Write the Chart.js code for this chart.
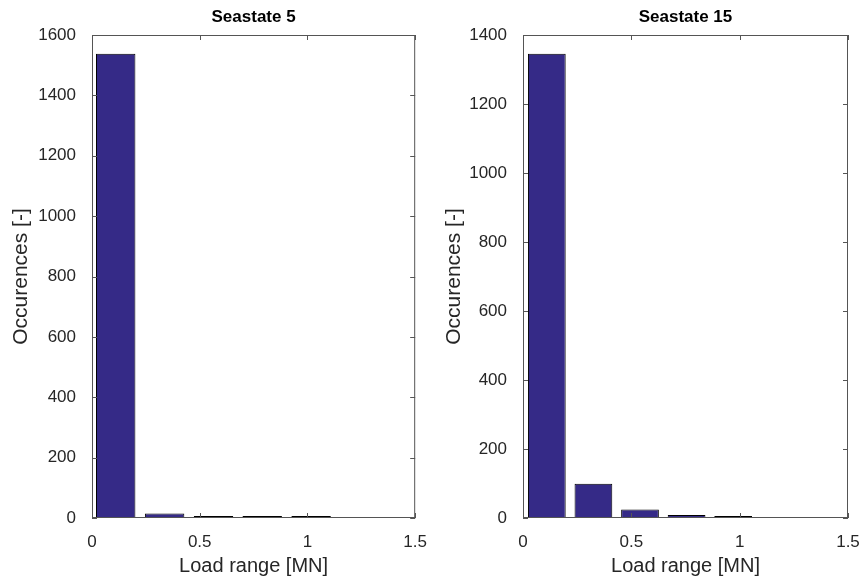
<!DOCTYPE html>
<html>
<head>
<meta charset="utf-8">
<title>Seastate load ranges</title>
<script src="https://cdn.jsdelivr.net/npm/chart.js@4.4.1/dist/chart.umd.min.js"></script>
<style>
    html, body { margin: 0; padding: 0; background: #fff; }
    #wrap { position: relative; width: 866px; height: 588px; }
    canvas { position: absolute; top: 0; }
    #chartLeft { left: 0; }
    #chartRight { left: 433px; }
</style>
</head>
<body>
<div id="wrap">
    <canvas id="chartLeft" width="433" height="588"></canvas>
    <canvas id="chartRight" width="433" height="588"></canvas>
</div>
<script>
// --- Données ---
const loadRange5 = [0.11, 0.337, 0.564, 0.79, 1.017];
const occurences5 = [1538, 15, 3, 1, 1];
const loadRange15 = [0.11, 0.325, 0.54, 0.755, 0.97];
const occurences15 = [1346, 99, 25, 9, 4];
const xTicks = [0, 0.5, 1, 1.5];
const yTicks5 = [0, 200, 400, 600, 800, 1000, 1200, 1400, 1600];
const yTicks15 = [0, 200, 400, 600, 800, 1000, 1200, 1400];

const FONT = "'Liberation Sans', Arial, Helvetica, sans-serif";
const BAR_COLOR = '#352a87';
const AXIS_COLOR = '#555555';
const TEXT_COLOR = '#262626';

// Cadre façon MATLAB : bords haut/droite + graduations vers l'intérieur
const boxPlugin = {
    id: 'matlabBox',
    afterDraw(chart, args, opts) {
        const { ctx, chartArea: a, scales } = chart;
        ctx.save();
        ctx.strokeStyle = AXIS_COLOR;
        ctx.lineWidth = 1;
        ctx.strokeRect(a.left + 0.5, a.top + 0.5, a.right - a.left - 1, a.bottom - a.top - 1);
        const len = 5;
        ctx.beginPath();
        scales.x.ticks.forEach(t => {
            const px = Math.round(scales.x.getPixelForValue(t.value)) + 0.5;
            ctx.moveTo(px, a.bottom); ctx.lineTo(px, a.bottom - len);
            ctx.moveTo(px, a.top); ctx.lineTo(px, a.top + len);
        });
        scales.y.ticks.forEach(t => {
            const py = Math.round(scales.y.getPixelForValue(t.value)) + 0.5;
            ctx.moveTo(a.left, py); ctx.lineTo(a.left + len, py);
            ctx.moveTo(a.right, py); ctx.lineTo(a.right - len, py);
        });
        ctx.stroke();
        // titre
        ctx.fillStyle = '#000';
        ctx.font = `bold 17px ${FONT}`;
        ctx.textAlign = 'center';
        ctx.textBaseline = 'middle';
        ctx.fillText(opts.text, (a.left + a.right) / 2, 17);
        ctx.restore();
    }
};

function makeChart(id, title, xs, ys, yTicks, yWidth, rightPad) {
    const points = xs.map((x, i) => ({ x: x, y: ys[i] }));
    return new Chart(document.getElementById(id), {
        type: 'bar',
        data: {
            datasets: [{
                data: points,
                backgroundColor: BAR_COLOR,
                borderColor: '#000',
                borderWidth: 1,
                borderSkipped: false,
                minBarLength: 2,
                barPercentage: 0.81,
                categoryPercentage: 1
            }]
        },
        options: {
            responsive: false,
            animation: false,
            layout: { padding: { top: 35, right: rightPad, left: 0, bottom: 0 } },
            plugins: {
                legend: { display: false },
                tooltip: { enabled: false },
                matlabBox: { text: title }
            },
            scales: {
                x: {
                    type: 'linear',
                    offset: false,
                    min: 0,
                    max: 1.5,
                    afterBuildTicks: s => { s.ticks = xTicks.map(v => ({ value: v })); },
                    afterFit: s => { s.height = 70; },
                    grid: { display: false, offset: false },
                    border: { display: false },
                    ticks: {
                        padding: 6,
                        color: TEXT_COLOR,
                        font: { family: FONT, size: 17 },
                        maxRotation: 0,
                        callback: v => String(v)
                    },
                    title: {
                        display: true,
                        text: 'Load range [MN]',
                        color: TEXT_COLOR,
                        font: { family: FONT, size: 20 },
                        padding: { top: 0, bottom: 10 }
                    }
                },
                y: {
                    min: 0,
                    max: yTicks[yTicks.length - 1],
                    afterBuildTicks: s => { s.ticks = yTicks.map(v => ({ value: v })); },
                    afterFit: s => { s.width = yWidth; },
                    grid: { display: false },
                    border: { display: false },
                    ticks: {
                        padding: 8,
                        color: TEXT_COLOR,
                        font: { family: FONT, size: 17 },
                        callback: v => String(v)
                    },
                    title: {
                        display: true,
                        text: 'Occurences [-]',
                        color: TEXT_COLOR,
                        font: { family: FONT, size: 21 },
                        padding: { top: 9, bottom: 0 }
                    }
                }
            }
        },
        plugins: [boxPlugin]
    });
}

makeChart('chartLeft', 'Seastate 5', loadRange5, occurences5, yTicks5, 92, 15);
makeChart('chartRight', 'Seastate 15', loadRange15, occurences15, yTicks15, 90, 18);
</script>
</body>
</html>
